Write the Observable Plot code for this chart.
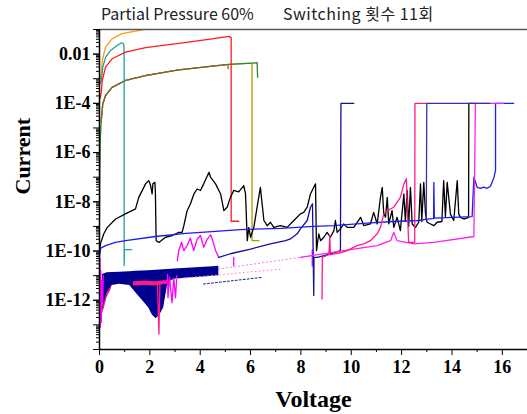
<!DOCTYPE html>
<html>
<head>
<meta charset="utf-8">
<script src="https://cdn.jsdelivr.net/npm/d3@7"></script>
<script src="https://cdn.jsdelivr.net/npm/@observablehq/plot@0.6"></script>
<style>
  body { margin: 0; background: #fff; }
  #title { position: relative; width: 527px; height: 22px; font-family: "Noto Sans CJK KR", "Noto Sans", sans-serif; font-size: 16px; color: #222; }
  #title span { position: absolute; top: 1px; white-space: nowrap; }
</style>
</head>
<body>
<div id="title"><span style="left:101px">Partial Pressure 60%</span><span style="left:283px;letter-spacing:0.5px">Switching 횟수 11회</span></div>
<div id="chart"></div>
<script>
// I–V sweeps, 11 switching cycles. Each point is [voltage (V), log10(current / A)].
const orange = [[0.03,-3.0],[0.07,-2.8],[0.11,-2.26],[0.24,-1.72],[0.5,-1.38],[0.9,-1.17],[1.43,-1.07],[1.8,-0.99]];
const teal = [[0.03,-3.2],[0.07,-3.07],[0.13,-2.53],[0.24,-2.13],[0.44,-1.85],[0.7,-1.65],[0.87,-1.54],[0.95,-1.58],[0.97,-1.65],[0.98,-2.2],[0.98,-10.59],[0.99,-9.94],[1.27,-9.94]];
const red = [[0.03,-3.8],[0.07,-3.55],[0.11,-3.07],[0.24,-2.53],[0.5,-2.19],[1.03,-1.92],[1.83,-1.74],[3.15,-1.56],[4.48,-1.38],[5.14,-1.28],[5.23,-1.34],[5.23,-8.79],[5.53,-8.79]];
const green = [[0.0,-8.7],[0.01,-7.0],[0.03,-5.5],[0.07,-4.7],[0.13,-4.02],[0.24,-3.68],[0.5,-3.35],[1.03,-3.07],[1.83,-2.87],[3.15,-2.64],[4.48,-2.49],[5.14,-2.42],[6.06,-2.37],[6.26,-2.35],[6.28,-2.94]];
const brown = [[0.07,-4.7],[0.13,-4.02],[0.24,-3.68],[0.5,-3.35],[1.03,-3.07],[1.83,-2.87],[3.15,-2.64],[4.48,-2.49],[5.1,-2.42],[5.11,-2.6]];
const olive = [[0.07,-4.7],[0.13,-4.02],[0.24,-3.68],[0.5,-3.35],[1.03,-3.07],[1.83,-2.87],[3.15,-2.64],[4.48,-2.49],[5.14,-2.42],[6.06,-2.37],[6.06,-9.58],[6.33,-9.58]];

const black = [[0.02,-9.9],[0.04,-9.7],[0.17,-9.3],[0.31,-9.04],[0.64,-8.7],[1.03,-8.49],[1.43,-8.29],[1.56,-7.82],[1.83,-7.27],[1.96,-7.14],[2.03,-7.34],[2.09,-7.68],[2.12,-7.27],[2.2,-7.21],[2.22,-7.6],[2.25,-9.58],[2.36,-9.65],[2.62,-9.44],[2.89,-9.37],[3.15,-9.24],[3.28,-9.24],[3.35,-8.97],[3.48,-8.36],[3.61,-8.09],[3.75,-7.68],[3.88,-7.48],[4.01,-7.54],[4.14,-7.27],[4.28,-6.95],[4.35,-6.8],[4.41,-7.0],[4.61,-7.27],[4.81,-7.68],[4.94,-8.36],[5.07,-8.22],[5.2,-7.82],[5.33,-7.54],[5.53,-7.6],[5.73,-7.34],[5.8,-7.68],[5.87,-9.58],[5.93,-9.04],[6.0,-9.44],[6.13,-9.04],[6.26,-8.22],[6.39,-7.41],[6.46,-8.09],[6.53,-8.76],[6.66,-8.97],[6.79,-8.83],[6.92,-9.04],[7.19,-8.97],[7.45,-9.04],[7.72,-8.76],[7.98,-8.49],[8.11,-8.43],[8.25,-8.22],[8.38,-7.68],[8.51,-7.41],[8.58,-7.27],[8.62,-9.98],[8.71,-9.3],[8.78,-9.58],[8.91,-9.44],[9.04,-9.24],[9.17,-9.44],[9.31,-9.17],[9.37,-8.76],[9.44,-9.24],[9.57,-9.1],[9.7,-8.9],[9.84,-9.04],[10.1,-9.04],[10.37,-8.63],[10.5,-8.97],[10.76,-8.9],[10.89,-8.43],[11.03,-8.9],[11.16,-7.82],[11.23,-7.41],[11.29,-8.49],[11.36,-8.63],[11.43,-7.82],[11.49,-8.9],[11.62,-8.36],[11.69,-9.04],[11.82,-8.63],[11.95,-9.17],[12.09,-7.68],[12.15,-8.8],[12.22,-7.54],[12.28,-9.0],[12.35,-7.41],[12.42,-8.9],[12.55,-9.04],[12.68,-8.83],[12.75,-7.27],[12.8,-8.8],[12.88,-7.21],[12.95,-8.5],[13.01,-8.83],[13.15,-8.9],[13.28,-8.97],[13.41,-8.83],[13.6,-8.8],[13.67,-7.14],[13.74,-8.6],[13.81,-7.21],[13.94,-8.5],[14.07,-8.76],[14.21,-7.14],[14.27,-8.5],[14.34,-8.63],[14.47,-8.7],[14.66,-8.63],[14.67,-4.0],[14.9,-4.0]];

const blue = [[0.0,-10.22],[0.05,-9.88],[0.24,-9.78],[0.63,-9.65],[1.03,-9.58],[2.22,-9.41],[3.42,-9.28],[4.61,-9.2],[5.6,-9.13],[7.19,-9.08],[8.51,-9.0],[9.29,-8.97],[10.63,-8.87],[11.68,-8.8],[12.67,-8.76],[13.01,-8.7],[13.27,-8.68],[13.28,-7.21],[13.3,-8.66],[14.8,-8.6],[14.87,-7.0],[15.0,-7.41],[15.13,-7.45],[15.26,-7.4],[15.4,-7.45],[15.53,-7.37],[15.66,-7.03],[15.73,-6.73],[15.73,-4.0],[16.45,-4.0]];

// dense low-current noise bands (0–4.7 V): voltage, lower and upper log10 current
const navyBandV  = [0.12,0.3,0.5,0.8,1.2,1.45,1.7,1.95,2.1,2.25,2.4,2.55,2.7,2.85,3.0,3.5,4.0,4.5,4.74];
const navyBandLo = [-12.4,-11.7,-11.4,-11.35,-11.4,-11.7,-12.0,-12.3,-12.6,-12.75,-12.6,-12.3,-11.4,-11.2,-11.15,-11.1,-11.06,-11.02,-11.0];
const navyBandHi = [-10.95,-10.88,-10.87,-10.86,-10.84,-10.82,-10.81,-10.8,-10.79,-10.78,-10.77,-10.76,-10.75,-10.74,-10.73,-10.7,-10.67,-10.64,-10.62];
const pinkBandV  = [0.12,0.2,0.3,0.45,0.55];
const pinkBandLo = [-12.55,-12.3,-11.9,-11.6,-11.2];
const pinkBandHi = [-11.0,-11.0,-11.0,-11.0,-11.0];
const pinkStripV  = [1.35,1.8,2.2,2.7];
const pinkStripLo = [-11.42,-11.4,-11.42,-11.35];
const pinkStripHi = [-11.25,-11.22,-11.25,-11.2];

const pinkSpike = [[2.3,-11.3],[2.36,-13.37],[2.4,-11.3]];
const magentaLeft = [[0.02,-10.3],[0.03,-13.1],[0.05,-10.8],[0.07,-12.9],[0.09,-11.2],[0.12,-12.2],[0.15,-11.0]];
const magentaLow = [[2.7,-10.95],[2.72,-11.9],[2.78,-11.05],[2.88,-12.1],[2.95,-11.1],[3.02,-11.9],[3.07,-11.0]];
const magentaHigh = [[3.09,-10.39],[3.15,-9.98],[3.26,-9.64],[3.35,-9.98],[3.48,-9.78],[3.61,-9.47],[3.74,-9.98],[3.88,-9.52],[4.01,-9.37],[4.14,-9.85],[4.28,-9.52],[4.41,-9.34],[4.5,-9.58],[4.61,-9.98],[4.74,-10.26]];
const magentaTicks = [[5.33,-10.26],[5.33,-10.6]];
const magentaMid = [[8.45,-9.95],[8.45,-10.6]];
const pinkDots = [[4.74,-10.73],[8.45,-10.19]];
const pinkDots2 = [[3.02,-11.13],[7.26,-10.73]];
const navyDots = [[4.13,-11.34],[6.46,-11.07]];

const navy = [[4.74,-10.26],[5.2,-10.11],[6.0,-9.92],[6.79,-9.71],[7.39,-9.58],[7.58,-9.51],[7.85,-9.3],[7.98,-9.1],[8.25,-8.76],[8.38,-8.22],[8.46,-8.08],[8.48,-9.58],[8.51,-11.81],[8.52,-10.26],[8.65,-10.26],[9.17,-10.12],[9.57,-9.98],[9.59,-4.0],[10.1,-4.0]];
const navyTop = [[12.98,-8.7],[13.0,-4.0],[15.5,-4.0]];
const magenta = [[7.98,-10.26],[9.7,-9.98],[11.03,-9.78],[11.56,-9.58],[11.69,-9.24],[11.82,-9.58],[12.48,-9.71],[13.28,-9.65],[14.87,-9.41],[14.93,-4.0],[16.06,-4.0]];
const deepPink = [[8.84,-11.95],[8.85,-10.26],[9.11,-10.15],[9.15,-9.37],[9.17,-10.15],[9.57,-10.07],[9.84,-9.98],[10.23,-9.78],[10.5,-9.71],[10.76,-9.58],[11.03,-9.3],[11.16,-9.04],[11.29,-8.49],[11.43,-8.36],[11.69,-8.22],[11.95,-7.82],[12.09,-7.27],[12.19,-7.07],[12.24,-8.63],[12.28,-9.65],[12.52,-9.65],[12.53,-4.0],[13.01,-4.0]];

// axis tick values
const xMajor = [0, 2, 4, 6, 8, 10, 12, 14, 16];
const xMinor = [1, 3, 5, 7, 9, 11, 13, 15];
const yLabeled = [1e-2, 1e-4, 1e-6, 1e-8, 1e-10, 1e-12];
const yDecades = d3.range(-14, 0).map(e => 10 ** e);
const yMinor = d3.range(-14, -1).flatMap(e => d3.range(2, 10).map(k => k * 10 ** e));

const rows = pts => pts.map(([v, e]) => ({v, i: 10 ** e}));
const band = (V, lo, hi) => V.map((v, k) => ({v, lo: 10 ** lo[k], hi: 10 ** hi[k]}));
const line = (pts, stroke, extra = {}) =>
  Plot.line(rows(pts), {x: "v", y: "i", stroke, strokeWidth: 1.3, clip: true, ...extra});
const area = (b, fill) => Plot.areaY(b, {x: "v", y1: "lo", y2: "hi", fill, clip: true});

const fmt = d => d === 1e-2 ? "0.01" : "1E" + Math.round(Math.log10(d));

const chart = Plot.plot({
  width: 527,
  height: 392,
  marginTop: 7,
  marginLeft: 99,
  marginRight: 0,
  marginBottom: 65,
  style: {fontFamily: '"Liberation Serif", "Times New Roman", serif', fontWeight: "bold", fontSize: "18px", color: "#000", background: "#fff"},
  x: {domain: [0, 17], label: null},
  y: {type: "log", domain: [1e-14, 1e-1], label: null},
  marks: [
    line(olive, "#a3a300"),
    line(green, "#2a8a2a"),
    line(brown, "#b84a3a", {strokeDasharray: "3,3"}),
    line(orange, "#ff9a1a"),
    line(teal, "#1f9e9e"),
    line(red, "#ff1a1a"),
    area(band(pinkBandV, pinkBandLo, pinkBandHi), "#ff1a8c"),
    area(band(navyBandV, navyBandLo, navyBandHi), "#000090"),
    area(band(pinkStripV, pinkStripLo, pinkStripHi), "#ff1a8c"),
    line(pinkSpike, "#ff1a8c"),
    line(magentaLeft, "#ff00ff"),
    line(magentaLow, "#ff00ff"),
    line(magentaHigh, "#ff00ff"),
    line(magentaTicks, "#ff00ff"),
    line(magentaMid, "#ff00ff"),
    line(pinkDots, "#ff66ff", {strokeDasharray: "1,3", strokeWidth: 1}),
    line(pinkDots2, "#ff88cc", {strokeDasharray: "1,3", strokeWidth: 1}),
    line(navyDots, "#2020a0", {strokeDasharray: "2,2", strokeWidth: 1}),
    line(navy, "#10109a"),
    line(black, "#000000"),
    line(blue, "#1c1cf0"),
    line(magenta, "#ff22ee"),
    line(deepPink, "#ff1a8c"),
    line(navyTop, "#3434a8"),
    Plot.ruleY([1e-1], {stroke: "#555", strokeWidth: 1.5}),
    Plot.ruleX([0], {stroke: "#000", strokeWidth: 1.5}),
    Plot.ruleY([1e-14], {stroke: "#000", strokeWidth: 1.5}),
    Plot.axisX(xMajor, {tickSize: 6, tickPadding: 5, label: null, tickFormat: d => String(d)}),
    Plot.axisX(xMinor, {tickSize: 3, label: null, tickFormat: () => ""}),
    Plot.axisY(yDecades, {tickSize: 6, label: null, tickFormat: () => ""}),
    Plot.axisY(yMinor, {tickSize: 3, label: null, tickFormat: () => ""}),
    Plot.axisY(yLabeled, {tickSize: 6, tickPadding: 3, label: null, tickFormat: fmt}),
    Plot.text(["Voltage"], {frameAnchor: "bottom", dy: 57, fontSize: 24, fontWeight: "bold"}),
    Plot.text(["Current"], {frameAnchor: "left", rotate: -90, dx: -77, dy: 5, fontSize: 22, fontWeight: "bold"})
  ]
});
document.getElementById("chart").appendChild(chart);
</script>
</body>
</html>
